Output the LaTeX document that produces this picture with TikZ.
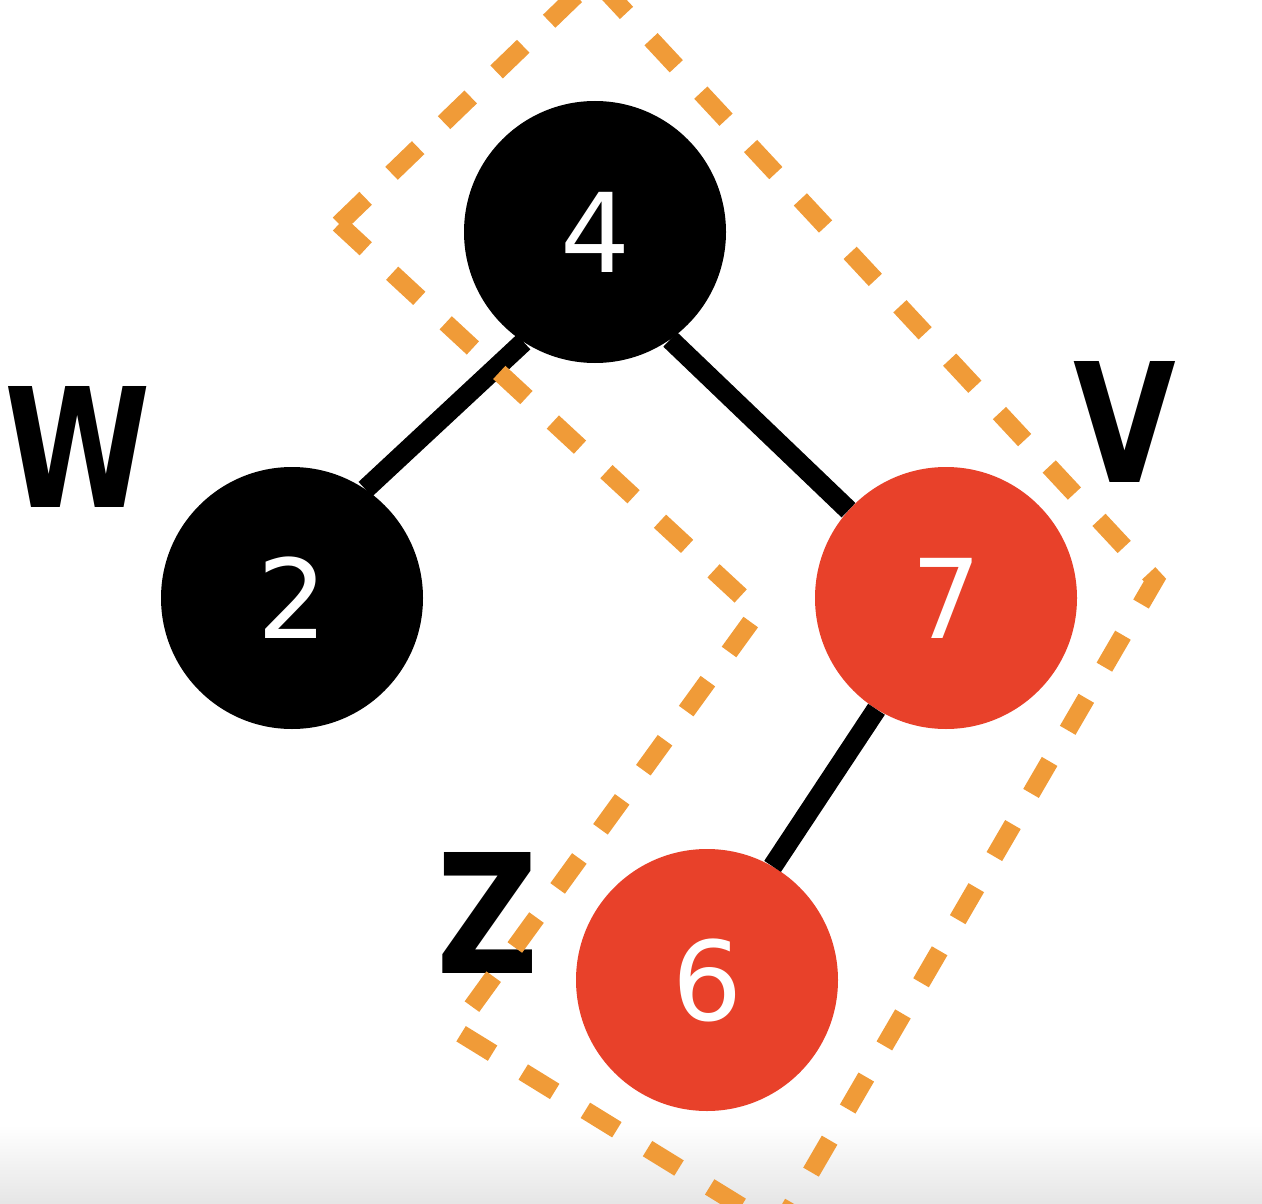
\documentclass[tikz,border=0pt]{standalone}
\usepackage{fontspec}
\setmainfont{DejaVu Sans}
\definecolor{rbred}{HTML}{E8412A}
\definecolor{rborange}{HTML}{F09B38}
\begin{document}
\begin{tikzpicture}[x=1pt,y=-1pt,
  treenode/.style={circle,minimum size=262pt,inner sep=0pt,text=white,
    font=\fontsize{110}{110}\selectfont},
  blacknode/.style={treenode,fill=black},
  rednode/.style={treenode,fill=rbred},
  edge/.style={line width=20pt,black},
  tag/.style={font=\fontsize{166}{166}\selectfont\bfseries,text=black,inner sep=0pt},
  groupline/.style={line width=18pt,rborange,dash pattern=on 37pt off 36pt,line join=miter}]
\useasboundingbox (0,0) rectangle (1262,1204);
\clip (0,0) rectangle (1262,1204);
\shade[top color=white,bottom color=black!10] (0,1125) rectangle (1262,1204);
% nodes
\node[blacknode] (n4) at (595,232) {4};
\node[blacknode] (n2) at (292,598) {2};
\node[rednode] (n7) at (946,598) {7};
\node[rednode] (n6) at (707,980) {6};
% edges
\draw[edge] (n4.237) -- (n2.56);
\draw[edge] (n4.305) -- (n7.138);
\draw[edge] (n7.238) -- (n6.60);
% labels
\node[tag] (w) at (78,447) {\scalebox{0.8}[1]{W}};
\node[tag] (v) at (1125,422) {\scalebox{0.8}[1]{V}};
\node[tag] (z) at (488,913) {\scalebox{0.85}[1]{Z}};
% dashed group outline
\coordinate (p1) at (594,-22);
\coordinate (p2) at (1155,580);
\coordinate (p3) at (778,1229);
\coordinate (p4) at (455,1030);
\coordinate (p5) at (758,612);
\coordinate (p6) at (339,224);
\draw[groupline] (p6) -- (p1) -- (p2) -- (p3) -- (p4) -- (p5) -- cycle;
\end{tikzpicture}
\end{document}
